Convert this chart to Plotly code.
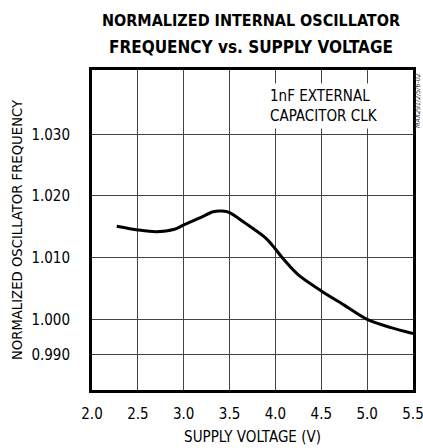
import plotly.graph_objects as go

# Data
supply_voltage = [2.27, 2.5, 2.7, 2.9, 3.0, 3.2, 3.32, 3.42, 3.5, 3.67, 3.9, 4.0,
                  4.08, 4.25, 4.5, 4.75, 5.0, 5.25, 5.5]
norm_freq = [1.0151, 1.0145, 1.0142, 1.0146, 1.0153, 1.0166, 1.01745, 1.01756,
             1.0173, 1.0156, 1.0131, 1.0114, 1.0099, 1.0072, 1.0046, 1.0023,
             1.0000, 0.9987, 0.9977]

x_tick_vals = [2.0, 2.5, 3.0, 3.5, 4.0, 4.5, 5.0, 5.5]
x_tick_text = ["2.0", "2.5", "3.0", "3.5", "4.0", "4.5", "5.0", "5.5"]
# the original chart draws the 0.990 gridline closer to 1.000 than the other spacings
y_tick_vals = [0.99432, 1.000, 1.010, 1.020, 1.030]
y_tick_text = ["0.990", "1.000", "1.010", "1.020", "1.030"]

FONT = "DejaVu Sans Condensed, Liberation Sans Narrow, Arial Narrow, sans-serif"

fig = go.Figure()
fig.add_trace(go.Scatter(
    x=supply_voltage, y=norm_freq, mode="lines",
    line=dict(color="black", width=3, shape="spline", smoothing=0.8),
    showlegend=False, hoverinfo="skip",
))

fig.update_layout(
    width=423, height=448,
    margin=dict(l=92, r=10, t=70, b=58),
    paper_bgcolor="white", plot_bgcolor="white",
    font=dict(family=FONT, color="black", size=15),
    xaxis=dict(
        range=[2.0, 5.5], tickvals=x_tick_vals, ticktext=x_tick_text,
        showgrid=True, gridcolor="#444", gridwidth=1,
        showline=True, linecolor="black", linewidth=3, mirror=True,
        ticks="", ticklabelstandoff=8, zeroline=False, automargin=False,
        ticklabeloverflow="allow",
        tickfont=dict(size=15),
        title=dict(text="SUPPLY VOLTAGE (V)", font=dict(size=15), standoff=10),
    ),
    yaxis=dict(
        range=[0.98854, 1.04043], tickvals=y_tick_vals, ticktext=y_tick_text,
        showgrid=True, gridcolor="#444", gridwidth=1,
        showline=True, linecolor="black", linewidth=3, mirror=True,
        ticks="", ticklabelstandoff=16, zeroline=False, automargin=False,
        tickfont=dict(size=15),
        title=dict(text="NORMALIZED OSCILLATOR FREQUENCY", font=dict(size=14.7), standoff=6),
    ),
    annotations=[
        dict(text="<b>NORMALIZED INTERNAL OSCILLATOR</b>", xref="paper", yref="paper",
             x=0.495, y=1.15625, xanchor="center", yanchor="middle", showarrow=False,
             font=dict(size=16, family=FONT)),
        dict(text="<b>FREQUENCY vs. SUPPLY VOLTAGE</b>", xref="paper", yref="paper",
             x=0.495, y=1.0728, xanchor="center", yanchor="middle", showarrow=False,
             font=dict(size=17, family=FONT)),
        dict(text="1nF EXTERNAL<br>CAPACITOR CLK", xref="paper", yref="paper",
             x=(266 - 92) / 321, y=(390 - 106) / 320, xanchor="left", yanchor="middle",
             align="left", showarrow=False, bgcolor="white", borderpad=3,
             font=dict(size=15, family=FONT)),
        dict(text="<i>MAX291/2/5/6-02</i>", xref="paper", yref="paper",
             x=(418 - 92) / 321, y=(390 - 100) / 320, xanchor="center", yanchor="middle",
             textangle=-90, showarrow=False, font=dict(size=7, family=FONT, color="#333")),
    ],
)

fig.write_html("out.html", config={"displayModeBar": False},
               post_script="document.body.style.margin='0px';")
